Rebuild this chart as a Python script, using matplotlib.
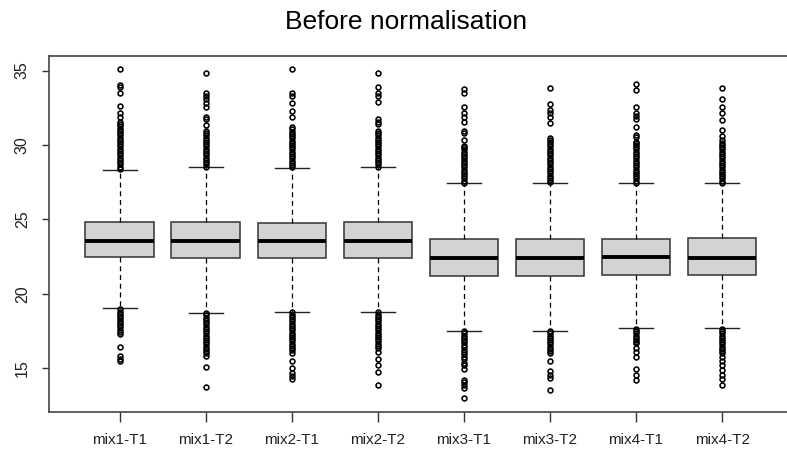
import matplotlib
matplotlib.use("Agg")
import matplotlib.pyplot as plt

plt.rcParams['font.family'] = ['Liberation Sans', 'DejaVu Sans']

labels = ["mix1-T1", "mix1-T2", "mix2-T1", "mix2-T2",
          "mix3-T1", "mix3-T2", "mix4-T1", "mix4-T2"]

q1 = [22.50, 22.43, 22.43, 22.43, 21.22, 21.22, 21.29, 21.29]
medians = [23.58, 23.58, 23.58, 23.58, 22.43, 22.43, 22.50, 22.43]
q3 = [24.85, 24.85, 24.78, 24.85, 23.71, 23.71, 23.71, 23.78]
whisker_lo = [19.03, 18.74, 18.81, 18.81, 17.53, 17.53, 17.69, 17.69]
whisker_hi = [28.35, 28.50, 28.44, 28.51, 27.43, 27.47, 27.43, 27.43]

# outliers (dense runs near the whiskers listed point by point)
fliers_hi = [
    [28.40, 28.55, 28.70, 28.85, 29.00, 29.15, 29.30, 29.45, 29.60, 29.75, 29.90,
     30.05, 30.20, 30.35, 30.50, 30.65, 30.80, 30.95, 31.10, 31.25, 31.40, 31.57,
     31.87, 32.14, 32.63, 33.48, 33.88, 34.04, 35.11],
    [28.55, 28.70, 28.85, 29.00, 29.15, 29.30, 29.45, 29.60, 29.75, 29.90, 30.05,
     30.20, 30.35, 30.50, 30.65, 30.80, 30.97, 31.35, 31.73, 31.87, 32.58, 32.85,
     33.08, 33.30, 33.52, 34.87],
    [28.50, 28.65, 28.80, 28.95, 29.10, 29.25, 29.40, 29.55, 29.70, 29.85, 30.00,
     30.15, 30.30, 30.45, 30.60, 30.75, 30.90, 31.05, 31.24, 31.87, 32.31, 32.85,
     33.30, 33.48, 35.09],
    [28.55, 28.70, 28.85, 29.00, 29.15, 29.30, 29.45, 29.60, 29.75, 29.90, 30.05,
     30.20, 30.35, 30.50, 30.65, 30.80, 30.97, 31.42, 31.57, 31.73, 32.92, 33.30,
     33.48, 33.88, 34.87],
    [27.45, 27.60, 27.75, 27.90, 28.05, 28.20, 28.35, 28.50, 28.65, 28.80, 28.95,
     29.10, 29.25, 29.40, 29.55, 29.70, 29.85, 29.94, 30.34, 30.83, 30.97, 31.57,
     31.87, 32.18, 32.54, 33.52, 33.75],
    [27.50, 27.65, 27.80, 27.95, 28.10, 28.25, 28.40, 28.55, 28.70, 28.85, 29.00,
     29.15, 29.30, 29.45, 29.60, 29.75, 29.90, 30.05, 30.20, 30.34, 30.46, 31.51,
     31.87, 32.18, 32.36, 32.76, 33.82],
    [27.45, 27.60, 27.75, 27.90, 28.05, 28.20, 28.35, 28.50, 28.65, 28.80, 28.95,
     29.10, 29.25, 29.40, 29.55, 29.70, 29.85, 30.00, 30.12, 30.23, 30.52, 30.68,
     31.24, 31.73, 31.96, 32.14, 32.54, 33.70, 34.11],
    [27.45, 27.60, 27.75, 27.90, 28.05, 28.20, 28.35, 28.50, 28.65, 28.80, 28.95,
     29.10, 29.25, 29.40, 29.55, 29.70, 29.85, 30.00, 30.15, 30.34, 30.61, 31.01,
     31.69, 32.14, 32.58, 33.08, 33.82],
]
fliers_lo = [
    [18.95, 18.80, 18.65, 18.50, 18.35, 18.20, 18.05, 17.90, 17.75, 17.60, 17.45,
     17.30, 16.45, 15.83, 15.65, 15.51],
    [18.70, 18.55, 18.40, 18.25, 18.10, 17.95, 17.80, 17.65, 17.50, 17.35, 17.20,
     17.05, 16.90, 16.75, 16.60, 16.45, 16.30, 16.15, 16.01, 15.83, 15.11, 13.76],
    [18.75, 18.60, 18.45, 18.30, 18.15, 18.00, 17.85, 17.70, 17.55, 17.40, 17.25,
     17.10, 16.95, 16.80, 16.65, 16.50, 16.35, 16.20, 16.01, 15.51, 15.00, 14.71,
     14.49, 14.26],
    [18.75, 18.60, 18.45, 18.30, 18.15, 18.00, 17.85, 17.70, 17.55, 17.40, 17.25,
     17.10, 16.95, 16.80, 16.65, 16.50, 16.35, 16.12, 15.60, 15.22, 14.77, 13.88],
    [17.50, 17.35, 17.20, 17.05, 16.90, 16.75, 16.57, 16.40, 16.25, 16.12, 15.95,
     15.78, 15.60, 15.38, 15.20, 14.93, 14.21, 14.05, 13.88, 13.66, 12.98],
    [17.50, 17.35, 17.20, 17.05, 16.90, 16.75, 16.60, 16.45, 16.30, 16.15, 16.01,
     15.51, 14.84, 14.55, 14.33, 13.54],
    [17.65, 17.50, 17.35, 17.20, 17.05, 16.90, 16.75, 16.68, 16.34, 16.12, 15.78,
     14.93, 14.55, 14.21],
    [17.65, 17.50, 17.35, 17.20, 17.05, 16.90, 16.75, 16.60, 16.45, 16.30, 16.15,
     16.01, 15.78, 15.51, 15.22, 14.89, 14.55, 14.26, 13.88],
]

y_ticks = [15, 20, 25, 30, 35]


def main():
    stats = []
    for i, name in enumerate(labels):
        stats.append({
            "label": name,
            "q1": q1[i], "med": medians[i], "q3": q3[i],
            "whislo": whisker_lo[i], "whishi": whisker_hi[i],
            "fliers": fliers_hi[i] + fliers_lo[i],
        })

    fig = plt.figure(figsize=(7.87, 4.55), dpi=100)
    ax = fig.add_axes([0.0627, 0.0938, 0.9444, 0.7838])

    ax.bxp(
        stats,
        positions=range(1, len(labels) + 1),
        widths=0.8,
        capwidths=0.4,
        patch_artist=True,
        boxprops=dict(facecolor="#d3d3d3", edgecolor="#333333", linewidth=1.1),
        medianprops=dict(color="black", linewidth=2.8),
        whiskerprops=dict(color="black", linewidth=0.9, linestyle=(0, (4, 3))),
        capprops=dict(color="#222222", linewidth=1.0),
        flierprops=dict(marker="o", markerfacecolor="none", markeredgecolor="black",
                        markersize=3.5, markeredgewidth=1.15, linestyle="none"),
    )

    ax.set_xlim(0.18, 8.82)
    ax.set_ylim(12.04, 36.0)
    ax.set_yticks(y_ticks)
    ax.set_yticklabels([str(t) for t in y_ticks], rotation=90, va="center")
    ax.set_xticks(range(1, len(labels) + 1))
    ax.set_xticklabels(labels)
    ax.tick_params(axis="x", length=7, width=1, color="#333333", pad=8,
                   labelsize=11, labelcolor="#222222")
    ax.tick_params(axis="y", length=5, width=1, color="#333333", pad=9,
                   labelsize=11.5, labelcolor="#222222")
    for s in ax.spines.values():
        s.set_color("#444444")
        s.set_linewidth(1.2)

    fig.text(0.516, 0.952, "Before normalisation", ha="center", va="center",
             fontsize=19, color="black")

    fig.savefig("out.png", dpi=100)
    plt.close(fig)


if __name__ == "__main__":
    main()
